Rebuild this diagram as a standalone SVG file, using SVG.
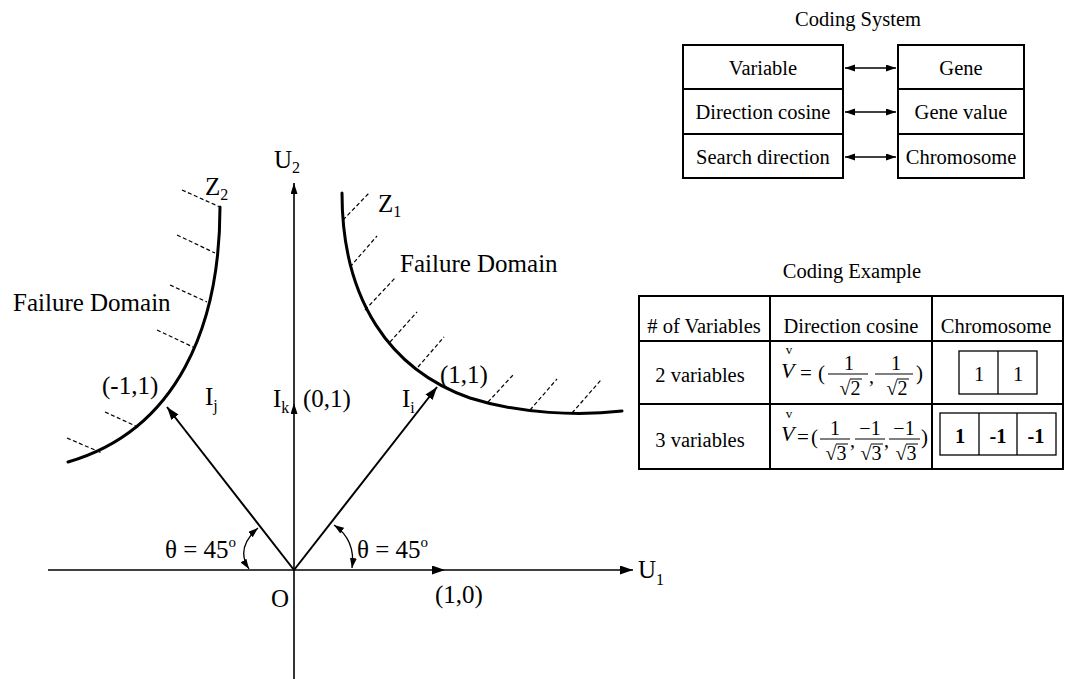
<svg xmlns="http://www.w3.org/2000/svg" width="1066" height="679" viewBox="0 0 1066 679">
<style>
text{font-family:"Liberation Serif","Times New Roman",serif;fill:#000}
.lbl{font-size:25px}
.t{font-size:20.5px}
.f{font-size:20px}
.c{text-anchor:middle}
.ax{stroke:#000;stroke-width:1.6;fill:none}
.vec{stroke:#000;stroke-width:2;fill:none}
.crv{stroke:#000;stroke-width:3;fill:none;stroke-linecap:round}
.hat{stroke:#000;stroke-width:1.2;stroke-dasharray:4 2.5;fill:none}
.box{stroke:#000;stroke-width:2;fill:#fff}
.thin{stroke:#000;stroke-width:1.3;fill:none}
.bar{stroke:#000;stroke-width:1;fill:none}
</style>
<defs>
<marker id="ah" markerUnits="userSpaceOnUse" markerWidth="14" markerHeight="10" refX="13" refY="4.5" orient="auto"><path d="M0,0 L13,4.5 L0,9 z" fill="#000"/></marker>
<marker id="am" markerUnits="userSpaceOnUse" markerWidth="12" markerHeight="8" refX="11" refY="3.5" orient="auto"><path d="M0,0 L11,3.5 L0,7 z" fill="#000"/></marker>
<marker id="as" markerUnits="userSpaceOnUse" markerWidth="10" markerHeight="8" refX="10" refY="3.5" orient="auto-start-reverse"><path d="M0,0 L10,3.5 L0,7 z" fill="#000"/></marker>
</defs>

<g id="axes">
<line class="ax" x1="48" y1="570" x2="445" y2="570" marker-end="url(#ah)"/>
<line class="ax" x1="445" y1="570" x2="633" y2="570" marker-end="url(#ah)"/>
<line class="ax" x1="294" y1="679" x2="294" y2="403" marker-end="url(#am)"/>
<line class="ax" x1="294" y1="403" x2="294" y2="183" marker-end="url(#am)"/>
</g>

<g id="vectors">
<line class="vec" x1="294" y1="570" x2="167" y2="407" marker-end="url(#ah)"/>
<line class="vec" x1="294" y1="570" x2="437" y2="387" marker-end="url(#ah)"/>
</g>

<g id="angles">
<path class="thin" d="M258,528 Q235,548 249,569" marker-start="url(#as)" marker-end="url(#as)"/>
<path class="thin" d="M334,525 Q356,540 352,568" marker-start="url(#as)" marker-end="url(#as)"/>
</g>

<g id="z2">
<path class="crv" d="M220,207 C220,325 178,430 68,462"/>
<g class="hat">
<line x1="182" y1="190" x2="220" y2="207"/>
<line x1="177" y1="235" x2="215" y2="253"/>
<line x1="170" y1="285" x2="207" y2="302"/>
<line x1="157" y1="330" x2="193" y2="347"/>
<line x1="105" y1="412" x2="140" y2="428"/>
<line x1="67" y1="438" x2="102" y2="453"/>
</g>
</g>

<g id="z1">
<path class="crv" d="M342,193 C342,300 390,370 470,398 C520,414 580,416 622,411"/>
<g class="hat">
<line x1="343" y1="220" x2="370" y2="192"/>
<line x1="350" y1="267" x2="377" y2="236"/>
<line x1="365" y1="310" x2="395" y2="278"/>
<line x1="390" y1="342" x2="417" y2="312"/>
<line x1="418" y1="367" x2="444" y2="337"/>
<line x1="488" y1="402" x2="514" y2="374"/>
<line x1="530" y1="410" x2="557" y2="379"/>
<line x1="572" y1="413" x2="601" y2="380"/>
</g>
</g>

<g id="graph-labels" class="lbl">
<text x="13" y="311">Failure Domain</text>
<text x="400" y="272">Failure Domain</text>
<text x="205" y="195">Z<tspan font-size="16" dy="5">2</tspan></text>
<text x="378" y="212">Z<tspan font-size="16" dy="5">1</tspan></text>
<text x="274" y="168">U<tspan font-size="16" dy="5">2</tspan></text>
<text x="638" y="578">U<tspan font-size="16" dy="7">1</tspan></text>
<text x="102" y="394">(-1,1)</text>
<text x="205" y="405">I<tspan font-size="16" dy="6">j</tspan></text>
<text x="273" y="407">I<tspan font-size="16" dy="6">k</tspan></text>
<text x="303" y="407">(0,1)</text>
<text x="402" y="407">I<tspan font-size="16" dy="6">i</tspan></text>
<text x="440" y="383">(1,1)</text>
<text x="165" y="558">θ = 45<tspan font-size="15" dy="-11">o</tspan></text>
<text x="357" y="558">θ = 45<tspan font-size="15" dy="-11">o</tspan></text>
<text x="271" y="607">O</text>
<text x="435" y="603">(1,0)</text>
</g>

<g id="coding-system">
<text class="t c" x="858" y="26">Coding System</text>
<g id="cs-variable"><rect class="box" x="683" y="45" width="160" height="44"/><text class="t c" x="763" y="75">Variable</text></g>
<g id="cs-direction-cosine"><rect class="box" x="683" y="89" width="160" height="45"/><text class="t c" x="763" y="119">Direction cosine</text></g>
<g id="cs-search-direction"><rect class="box" x="683" y="134" width="160" height="44"/><text class="t c" x="763" y="164">Search direction</text></g>
<g id="cs-gene"><rect class="box" x="898" y="45" width="126" height="44"/><text class="t c" x="961" y="75">Gene</text></g>
<g id="cs-gene-value"><rect class="box" x="898" y="89" width="126" height="45"/><text class="t c" x="961" y="119">Gene value</text></g>
<g id="cs-chromosome"><rect class="box" x="898" y="134" width="126" height="44"/><text class="t c" x="961" y="164">Chromosome</text></g>
</g>

<g id="connectors">
<line class="thin" x1="845" y1="68" x2="896" y2="68" marker-start="url(#as)" marker-end="url(#as)"/>
<line class="thin" x1="845" y1="112" x2="896" y2="112" marker-start="url(#as)" marker-end="url(#as)"/>
<line class="thin" x1="845" y1="157" x2="896" y2="157" marker-start="url(#as)" marker-end="url(#as)"/>
</g>

<g id="coding-example">
<text class="t c" x="852" y="278">Coding Example</text>
<rect class="box" x="639" y="296" width="424" height="173"/>
<line class="box" x1="770" y1="296" x2="770" y2="469"/>
<line class="box" x1="932" y1="296" x2="932" y2="469"/>
<line class="box" x1="639" y1="341" x2="1063" y2="341"/>
<line class="box" x1="639" y1="404" x2="1063" y2="404"/>
<text class="t c" x="704" y="333">#&#160;of Variables</text>
<text class="t c" x="851" y="333">Direction cosine</text>
<text class="t c" x="996" y="333">Chromosome</text>
<text class="t c" x="700" y="382">2 variables</text>
<text class="t c" x="700" y="447">3 variables</text>

<g id="formula-2">
<text x="789" y="354" font-size="13" text-anchor="middle">v</text>
<text x="781" y="378" font-size="22" font-style="italic">V</text>
<text x="800" y="380" font-size="21">=</text>
<text x="818" y="380" font-size="21">(</text>
<line class="bar" x1="828" y1="374" x2="868" y2="374"/>
<text class="f c" x="849" y="370">1</text>
<text class="f c" x="850" y="395">√2</text>
<line class="bar" x1="850" y1="379" x2="862" y2="379"/>
<text x="869" y="383" font-size="20">,</text>
<line class="bar" x1="875" y1="374" x2="913" y2="374"/>
<text class="f c" x="896" y="370">1</text>
<text class="f c" x="897" y="395">√2</text>
<line class="bar" x1="897" y1="379" x2="909" y2="379"/>
<text x="916" y="380" font-size="21">)</text>
</g>

<g id="formula-3">
<text x="789" y="418" font-size="13" text-anchor="middle">v</text>
<text x="781" y="441" font-size="22" font-style="italic">V</text>
<text x="797" y="444" font-size="21">=</text>
<text x="811" y="444" font-size="21">(</text>
<line class="bar" x1="820" y1="439" x2="850" y2="439"/>
<text class="f c" x="835" y="435">1</text>
<text class="f c" x="836" y="460">√3</text>
<line class="bar" x1="836" y1="444" x2="848" y2="444"/>
<text x="850" y="447" font-size="20">,</text>
<line class="bar" x1="855" y1="439" x2="885" y2="439"/>
<text class="f c" x="870" y="435">−1</text>
<text class="f c" x="871" y="460">√3</text>
<line class="bar" x1="871" y1="444" x2="883" y2="444"/>
<text x="884" y="447" font-size="20">,</text>
<line class="bar" x1="889" y1="439" x2="920" y2="439"/>
<text class="f c" x="904" y="435">−1</text>
<text class="f c" x="906" y="460">√3</text>
<line class="bar" x1="906" y1="444" x2="918" y2="444"/>
<text x="921" y="444" font-size="21">)</text>
</g>

<g id="chromosome-2">
<rect class="thin" x="959" y="351" width="78" height="43"/>
<line class="thin" x1="998" y1="351" x2="998" y2="394"/>
<text class="t c" x="979" y="381">1</text>
<text class="t c" x="1018" y="381">1</text>
</g>
<g id="chromosome-3">
<rect class="thin" x="940" y="413" width="116" height="42"/>
<line class="thin" x1="979" y1="413" x2="979" y2="455"/>
<line class="thin" x1="1017" y1="413" x2="1017" y2="455"/>
<text class="t c" x="960" y="443" font-weight="bold">1</text>
<text class="t c" x="998" y="443" font-weight="bold">-1</text>
<text class="t c" x="1036" y="443" font-weight="bold">-1</text>
</g>
</g>
</svg>
